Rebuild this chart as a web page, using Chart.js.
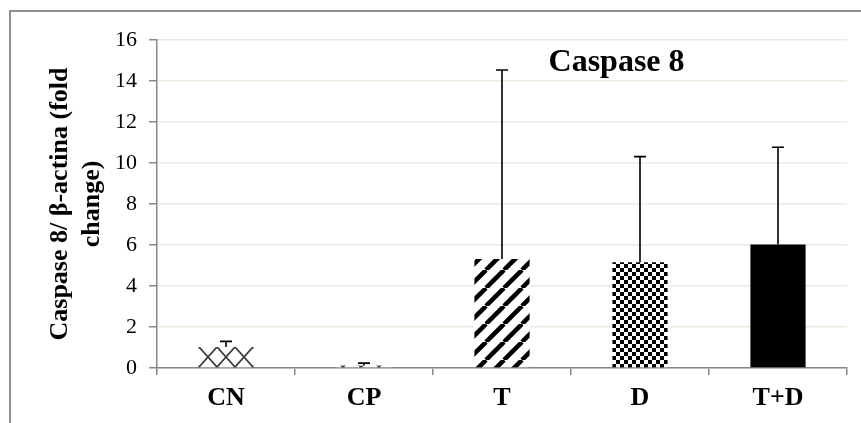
<!DOCTYPE html>
<html>
<head>
<meta charset="utf-8">
<script src="https://cdn.jsdelivr.net/npm/chart.js@4.4.1/dist/chart.umd.min.js"></script>
<style>
  html, body { margin: 0; padding: 0; background: #fff; }
  #wrap { position: relative; width: 861px; height: 423px; overflow: hidden; }
  #frame {
    position: absolute; left: 9px; top: 10px; width: 900px; height: 500px;
    border-left: 2px solid #8e8e8e; border-top: 2px solid #8e8e8e;
  }
  #caspaseChart { position: absolute; left: 0; top: 0; }
</style>
</head>
<body>
<div id="wrap">
  <div id="frame"></div>
  <canvas id="caspaseChart" width="861" height="423"></canvas>
</div>
<script>
// Caspase 8 / beta-actina fold change
const groups = ['CN', 'CP', 'T', 'D', 'T+D'];
const foldChange = [1.02, 0.12, 5.32, 5.16, 6.02];
const errUpper = [0.28, 0.12, 9.22, 5.15, 4.75];
const yTicks = [0, 2, 4, 6, 8, 10, 12, 14, 16];

const serif = '"Liberation Serif", "Times New Roman", serif';

function makeTile(w, h, draw) {
    const c = document.createElement('canvas');
    c.width = w;
    c.height = h;
    const g = c.getContext('2d');
    g.fillStyle = '#fff';
    g.fillRect(0, 0, w, h);
    draw(g, w, h);
    return c;
}

function buildPatterns(ctx) {
    // CN / CP: diamond lattice
    const lattice = makeTile(18, 20, (g, w, h) => {
        g.strokeStyle = '#3c3c3c';
        g.lineWidth = 1.8;
        g.beginPath();
        g.moveTo(0, 0); g.lineTo(w, h);
        g.moveTo(w, 0); g.lineTo(0, h);
        g.stroke();
    });
    // T: wide diagonal stripes
    const stripes = makeTile(18, 18, (g, w, h) => {
        g.strokeStyle = '#000';
        g.lineWidth = 4.5;
        g.beginPath();
        for (let k = -1; k <= 1; k++) {
            g.moveTo(k * w, h);
            g.lineTo(k * w + w, 0);
        }
        g.stroke();
    });
    // D: small checkerboard
    const checker = makeTile(8, 8, (g) => {
        g.fillStyle = '#000';
        g.fillRect(0, 0, 4, 4);
        g.fillRect(4, 4, 4, 4);
    });
    const pLattice = ctx.createPattern(lattice, 'repeat');
    pLattice.setTransform(new DOMMatrix().translate(1, 7));
    const pStripes = ctx.createPattern(stripes, 'repeat');
    const pChecker = ctx.createPattern(checker, 'repeat');
    return [pLattice, pLattice, pStripes, pChecker, '#000'];
}

const errorBars = {
    id: 'errorBars',
    afterDatasetsDraw(chart) {
        const ctx = chart.ctx;
        const y = chart.scales.y;
        const meta = chart.getDatasetMeta(0);
        ctx.save();
        ctx.strokeStyle = '#000';
        ctx.lineWidth = 1.6;
        meta.data.forEach((bar, i) => {
            const top = y.getPixelForValue(foldChange[i] + errUpper[i]);
            ctx.beginPath();
            ctx.moveTo(bar.x, bar.y);
            ctx.lineTo(bar.x, top);
            ctx.moveTo(bar.x - 6, top);
            ctx.lineTo(bar.x + 6, top);
            ctx.stroke();
        });
        ctx.restore();
    }
};

const insideTitle = {
    id: 'insideTitle',
    afterDraw(chart) {
        const {ctx, chartArea} = chart;
        const x = chartArea.left + (chartArea.right - chartArea.left) * 0.666;
        const y = chart.scales.y.getPixelForValue(14.9);
        ctx.save();
        ctx.font = 'bold 32px ' + serif;
        ctx.fillStyle = '#000';
        ctx.textAlign = 'center';
        ctx.textBaseline = 'middle';
        ctx.fillText('Caspase 8', x, y);
        ctx.restore();
    }
};

const canvas = document.getElementById('caspaseChart');
const ctx = canvas.getContext('2d');

new Chart(canvas, {
    type: 'bar',
    data: {
        labels: groups,
        datasets: [{
            data: foldChange,
            backgroundColor: buildPatterns(ctx),
            borderWidth: 0,
            barPercentage: 0.4,
            categoryPercentage: 1.0
        }]
    },
    options: {
        responsive: false,
        animation: false,
        events: [],
        layout: { padding: { left: 45, top: 40, right: 14, bottom: 0 } },
        plugins: {
            legend: { display: false },
            tooltip: { enabled: false }
        },
        scales: {
            x: {
                afterFit(scale) { scale.height = 55; },
                grid: {
                    drawOnChartArea: false,
                    tickColor: '#868686',
                    tickLength: 7,
                    lineWidth: 1.5
                },
                border: { color: '#868686', width: 1.5 },
                ticks: {
                    color: '#000',
                    padding: 8,
                    font: { family: serif, size: 26, weight: 'bold' }
                }
            },
            y: {
                min: 0,
                max: 16,
                afterFit(scale) { scale.width = 112; },
                afterBuildTicks(scale) { scale.ticks = yTicks.map(v => ({ value: v })); },
                grid: {
                    color: '#eceadf',
                    lineWidth: 1.5,
                    tickColor: '#868686',
                    tickLength: 8
                },
                border: { color: '#868686', width: 1.5 },
                ticks: {
                    color: '#000',
                    padding: 12,
                    font: { family: serif, size: 22 }
                },
                title: {
                    display: true,
                    text: ['Caspase 8/ \u03b2-actina (fold', 'change)'],
                    color: '#000',
                    padding: { top: 0, bottom: 0 },
                    font: { family: serif, size: 26, weight: 'bold', lineHeight: 1.2 }
                }
            }
        }
    },
    plugins: [errorBars, insideTitle]
});
</script>
</body>
</html>
